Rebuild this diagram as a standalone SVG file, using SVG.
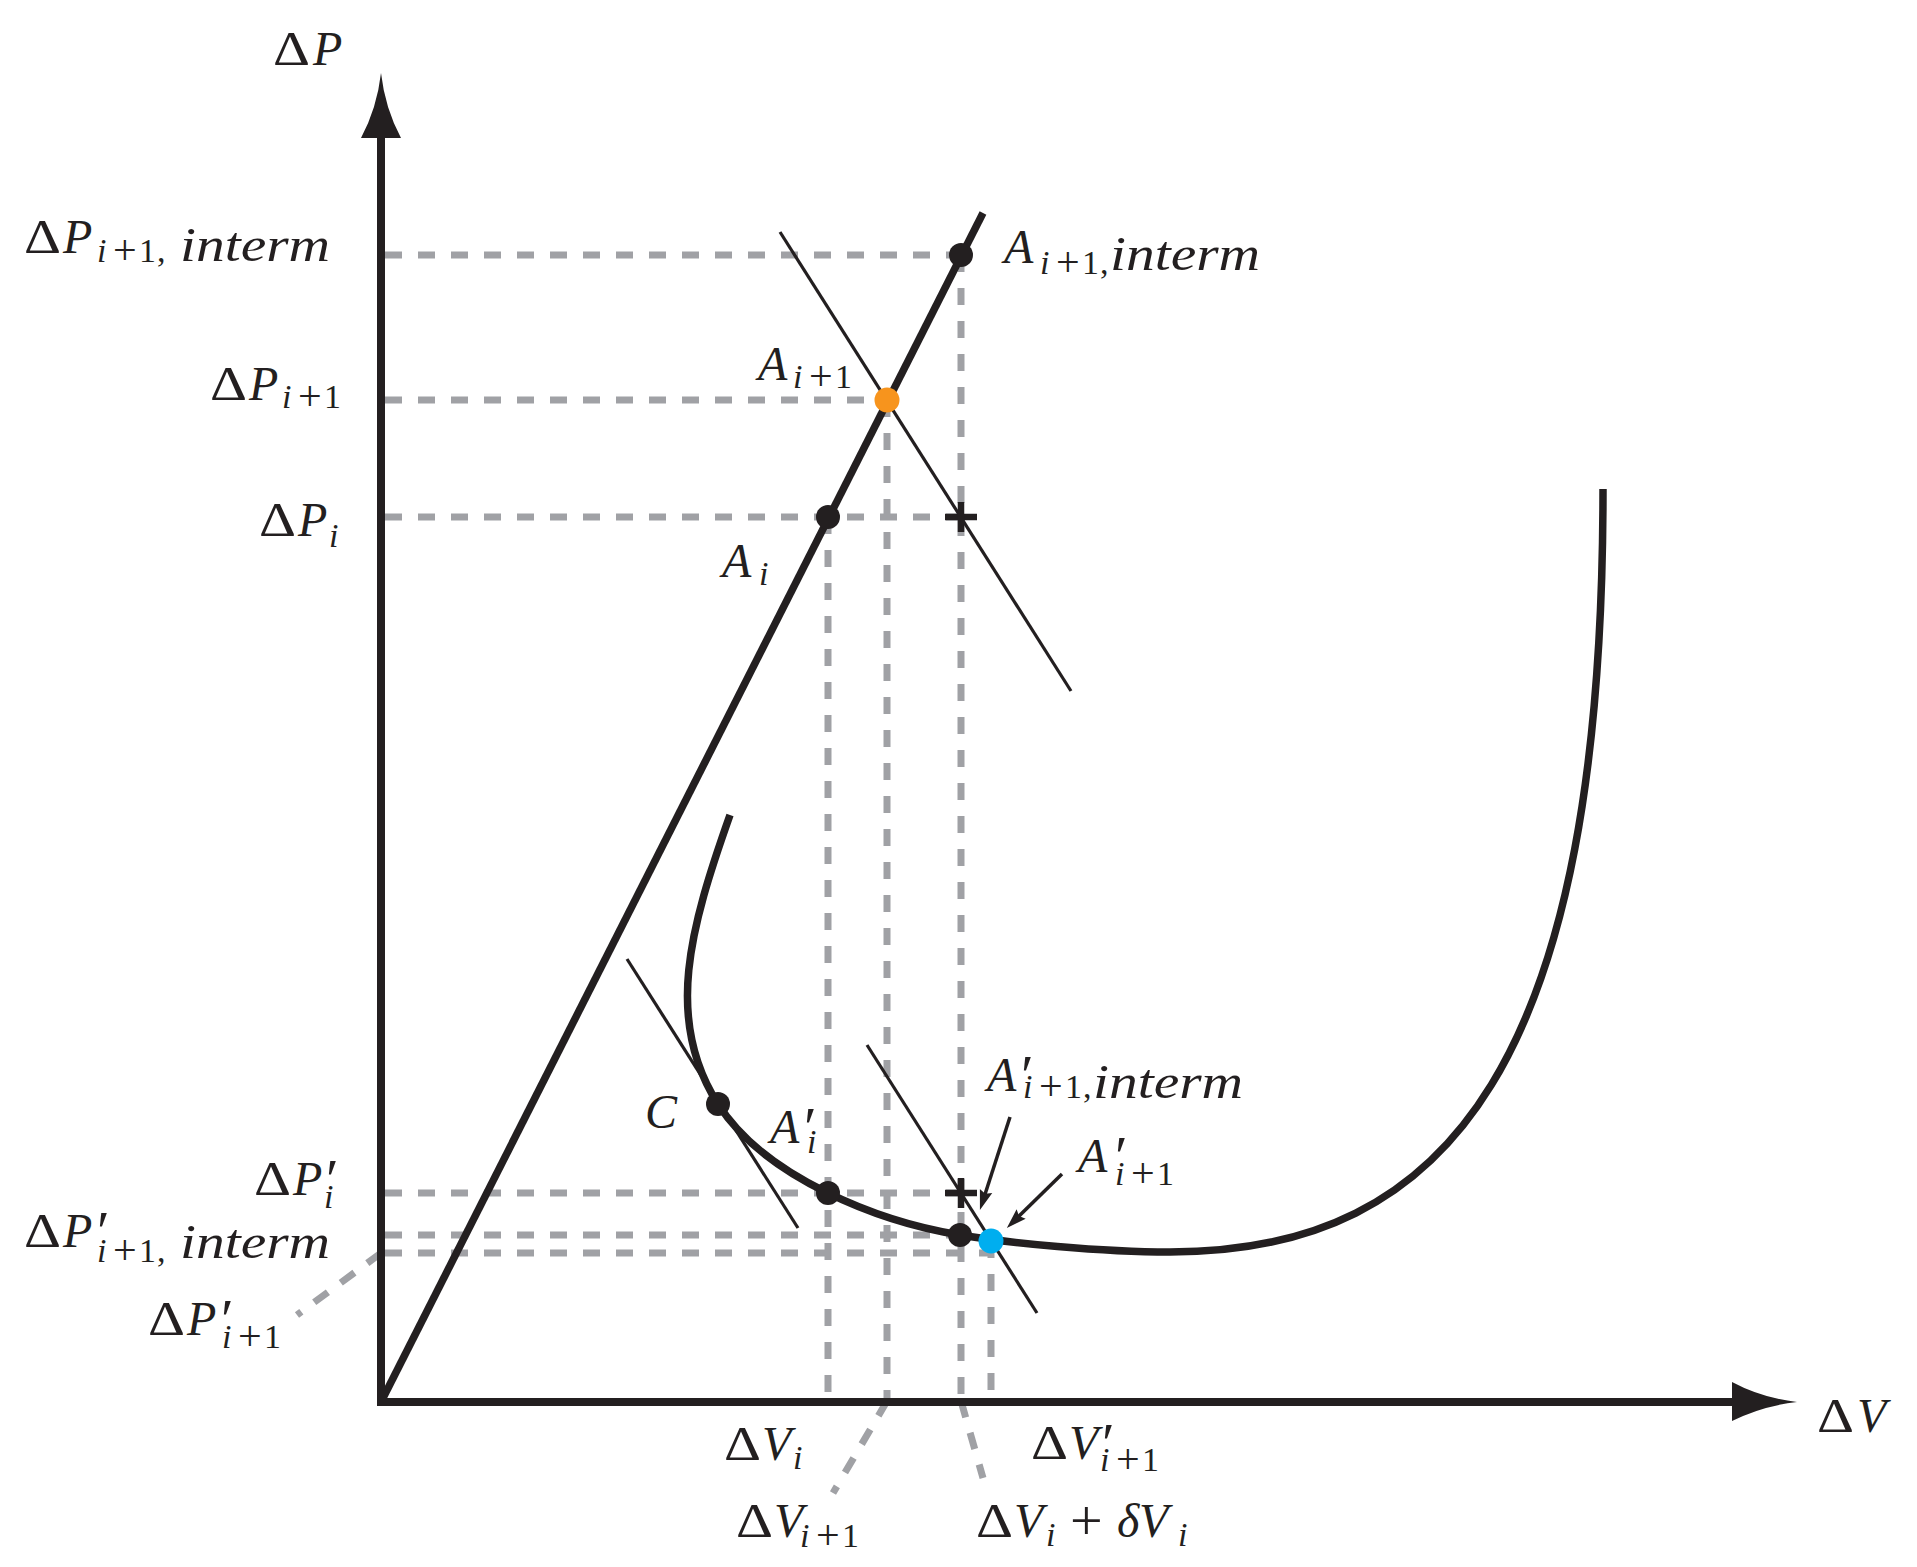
<svg xmlns="http://www.w3.org/2000/svg" width="1917" height="1567" viewBox="0 0 1917 1567">
<defs>
<style>
.t{font-family:"Liberation Serif","Times New Roman",serif;font-size:48px;fill:#231f20}
.it{font-style:italic}
.s{font-size:34px}
.sp{font-size:42px}
.mp{font-size:58px}
.pr{font-size:58px}
.dash{stroke:#a0a1a5;stroke-width:7;stroke-dasharray:17 16;fill:none}
.thick{stroke:#231f20;stroke-width:7.5;fill:none}
.thin{stroke:#231f20;stroke-width:3.2;fill:none}
.arr{stroke:#231f20;stroke-width:3.5;fill:none;marker-end:url(#ah)}
.dot{fill:#231f20}
.plus{fill:#231f20}
</style>
<marker id="ah" markerUnits="userSpaceOnUse" markerWidth="24" markerHeight="16" refX="0" refY="0" viewBox="-12 -8 24 16" orient="auto">
<path d="M10,0 L-10,-6.5 L-7,0 L-10,6.5 Z" fill="#231f20"/>
</marker>
</defs>
<rect width="1917" height="1567" fill="#ffffff"/>

<g id="connectors">
<g id="guides">
<path class="dash" d="M385,255 H961"/>
<path class="dash" d="M385,400 H887"/>
<path class="dash" d="M385,517 H961"/>
<path class="dash" d="M385,1193 H961"/>
<path class="dash" d="M385,1235 H960"/>
<path class="dash" d="M385,1253 H991"/>
<path class="dash" d="M828,517 V1398"/>
<path class="dash" d="M887,400 V1398"/>
<path class="dash" d="M961,255 V1398"/>
<path class="dash" d="M991,1241 V1398"/>
<path class="dash" d="M887,1401 L833,1493"/>
<path class="dash" d="M961,1401 L983,1478"/>
<path class="dash" d="M381,1253 L297,1315"/>
</g>
<g id="lines">
<path class="thin" d="M780,232 L1071,691"/>
<path class="thin" d="M627,959 L798,1228"/>
<path class="thin" d="M867,1045 L1037,1313"/>
<path class="thick" d="M381,1402 L983,213"/>
<path class="thick" d="M730,815 C690,928 664,1020 718,1104 C765,1178 880,1222 960,1235 C1010,1243 1100,1252 1170,1252 C1450,1252 1603,1060 1603,489"/>
<path class="arr" d="M1010,1117 L983,1200.5"/>
<path class="arr" d="M1062,1174 L1014,1221"/>
</g>
</g>

<g id="axes">
<path d="M381,132 V1402 H1736" fill="none" stroke="#231f20" stroke-width="8" stroke-linejoin="miter"/>
<path d="M381,73 Q385,108 401,138 L361,138 Q377,108 381,73 Z" fill="#231f20"/>
<path d="M1797,1402 Q1762,1398 1732,1382 L1732,1421 Q1762,1406 1797,1402 Z" fill="#231f20"/>
<text class="t"><tspan x="273" y="65" textLength="37" lengthAdjust="spacingAndGlyphs">Δ</tspan><tspan class="it" x="313">P</tspan></text>
<text class="t"><tspan x="1817" y="1432" textLength="37" lengthAdjust="spacingAndGlyphs">Δ</tspan><tspan class="it" x="1857">V</tspan></text>
</g>

<g id="tick-labels">
<text class="t"><tspan x="24" y="253" textLength="37" lengthAdjust="spacingAndGlyphs">Δ</tspan><tspan class="it" x="63">P</tspan><tspan class="s it" x="97" y="262">i</tspan><tspan class="sp" x="113" y="264">+</tspan><tspan class="s" x="139" y="262">1</tspan><tspan class="s" x="157">,</tspan><tspan class="it" x="180" y="261" textLength="150" lengthAdjust="spacingAndGlyphs">interm</tspan></text>
<text class="t"><tspan x="210" y="400" textLength="37" lengthAdjust="spacingAndGlyphs">Δ</tspan><tspan class="it" x="249">P</tspan><tspan class="s it" x="282" y="408">i</tspan><tspan class="sp" x="298" y="410">+</tspan><tspan class="s" x="324" y="408">1</tspan></text>
<text class="t"><tspan x="259" y="536" textLength="37" lengthAdjust="spacingAndGlyphs">Δ</tspan><tspan class="it" x="298">P</tspan><tspan class="s it" x="329" y="547">i</tspan></text>
<text class="t"><tspan x="254" y="1195" textLength="37" lengthAdjust="spacingAndGlyphs">Δ</tspan><tspan class="it" x="293">P</tspan><tspan class="pr" x="326" y="1199">′</tspan><tspan class="s it" x="324" y="1208">i</tspan></text>
<text class="t"><tspan x="24" y="1247" textLength="37" lengthAdjust="spacingAndGlyphs">Δ</tspan><tspan class="it" x="63">P</tspan><tspan class="pr" x="97" y="1251">′</tspan><tspan class="s it" x="97" y="1262">i</tspan><tspan class="sp" x="113" y="1264">+</tspan><tspan class="s" x="139" y="1262">1</tspan><tspan class="s" x="157">,</tspan><tspan class="it" x="180" y="1258" textLength="150" lengthAdjust="spacingAndGlyphs">interm</tspan></text>
<text class="t"><tspan x="148" y="1335" textLength="37" lengthAdjust="spacingAndGlyphs">Δ</tspan><tspan class="it" x="187">P</tspan><tspan class="pr" x="221" y="1339">′</tspan><tspan class="s it" x="222" y="1348">i</tspan><tspan class="sp" x="238" y="1350">+</tspan><tspan class="s" x="264" y="1348">1</tspan></text>
<text class="t"><tspan x="724" y="1460" textLength="37" lengthAdjust="spacingAndGlyphs">Δ</tspan><tspan class="it" x="762">V</tspan><tspan class="s it" x="793" y="1469">i</tspan></text>
<text class="t"><tspan x="1031" y="1459" textLength="37" lengthAdjust="spacingAndGlyphs">Δ</tspan><tspan class="it" x="1069">V</tspan><tspan class="pr" x="1102" y="1463">′</tspan><tspan class="s it" x="1100" y="1471">i</tspan><tspan class="sp" x="1116" y="1473">+</tspan><tspan class="s" x="1142" y="1471">1</tspan></text>
<text class="t"><tspan x="736" y="1537" textLength="37" lengthAdjust="spacingAndGlyphs">Δ</tspan><tspan class="it" x="774">V</tspan><tspan class="s it" x="800" y="1547">i</tspan><tspan class="sp" x="816" y="1549">+</tspan><tspan class="s" x="842" y="1547">1</tspan></text>
<text class="t"><tspan x="976" y="1537" textLength="37" lengthAdjust="spacingAndGlyphs">Δ</tspan><tspan class="it" x="1014">V</tspan><tspan class="s it" x="1046" y="1546">i</tspan><tspan class="mp" x="1070" y="1540">+</tspan><tspan class="it" x="1117" y="1537">δ</tspan><tspan class="it" x="1139">V</tspan><tspan class="s it" x="1178" y="1546">i</tspan></text>
</g>

<g id="node-A-i1-interm">
<circle class="dot" cx="961" cy="255" r="12"/>
<text class="t"><tspan class="it" x="1004" y="263">A</tspan><tspan class="s it" x="1040" y="274">i</tspan><tspan class="sp" x="1056" y="276">+</tspan><tspan class="s" x="1082" y="274">1</tspan><tspan class="s" x="1100">,</tspan><tspan class="it" x="1110" y="270" textLength="150" lengthAdjust="spacingAndGlyphs">interm</tspan></text>
</g>
<g id="node-A-i1">
<circle cx="887" cy="400" r="12.5" fill="#f7941d"/>
<text class="t"><tspan class="it" x="758" y="380">A</tspan><tspan class="s it" x="793" y="388">i</tspan><tspan class="sp" x="809" y="390">+</tspan><tspan class="s" x="835" y="388">1</tspan></text>
</g>
<g id="node-A-i">
<circle class="dot" cx="828" cy="517" r="12"/>
<text class="t"><tspan class="it" x="722" y="577">A</tspan><tspan class="s it" x="759" y="585">i</tspan></text>
</g>
<g id="node-plus-top">
<rect class="plus" x="945" y="513.75" width="32" height="6.5"/>
<rect class="plus" x="957.75" y="502" width="6.5" height="30"/>
</g>
<g id="node-C">
<circle class="dot" cx="718" cy="1104" r="12"/>
<text class="t it" x="645" y="1128">C</text>
</g>
<g id="node-Ap-i">
<circle class="dot" cx="828" cy="1193" r="12"/>
<text class="t"><tspan class="it" x="770" y="1143">A</tspan><tspan class="pr" x="804" y="1147">′</tspan><tspan class="s it" x="807" y="1153">i</tspan></text>
</g>
<g id="node-plus-bottom">
<rect class="plus" x="945" y="1189.75" width="32" height="6.5"/>
<rect class="plus" x="957.75" y="1178" width="6.5" height="30"/>
</g>
<g id="node-Ap-i1-interm">
<circle class="dot" cx="960" cy="1235" r="12"/>
<text class="t"><tspan class="it" x="987" y="1091">A</tspan><tspan class="pr" x="1021" y="1095">′</tspan><tspan class="s it" x="1023" y="1098">i</tspan><tspan class="sp" x="1039" y="1100">+</tspan><tspan class="s" x="1065" y="1098">1</tspan><tspan class="s" x="1083">,</tspan><tspan class="it" x="1093" y="1098" textLength="150" lengthAdjust="spacingAndGlyphs">interm</tspan></text>
</g>
<g id="node-Ap-i1">
<circle cx="991" cy="1241" r="12.5" fill="#00aeef"/>
<text class="t"><tspan class="it" x="1078" y="1172">A</tspan><tspan class="pr" x="1115" y="1176">′</tspan><tspan class="s it" x="1115" y="1185">i</tspan><tspan class="sp" x="1131" y="1187">+</tspan><tspan class="s" x="1157" y="1185">1</tspan></text>
</g>
</svg>
